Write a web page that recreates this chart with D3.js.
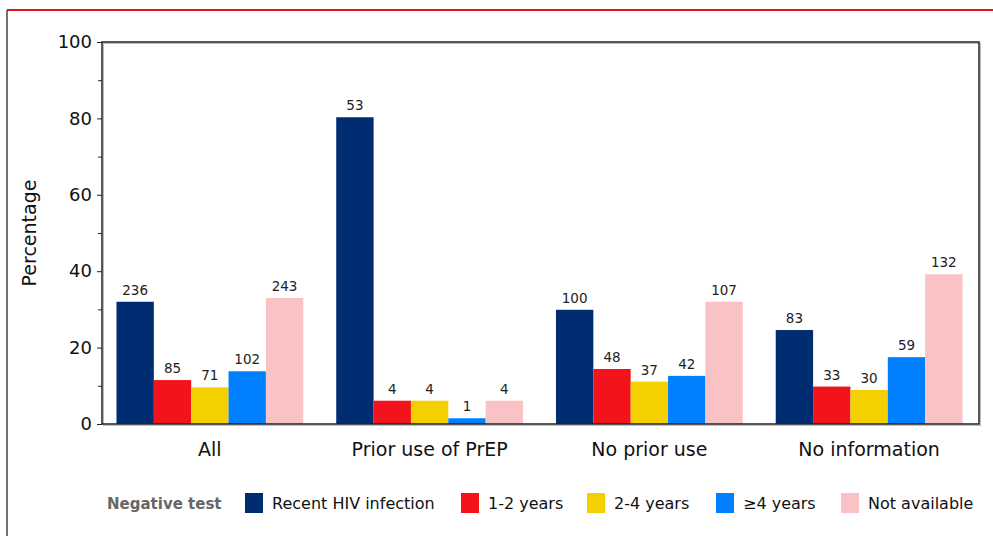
<!DOCTYPE html>
<html>
<head>
<meta charset="utf-8">
<script src="https://cdn.jsdelivr.net/npm/d3@7"></script>
<style>
  body { margin: 0; background: #fff; }
  svg { display: block; font-family: "DejaVu Sans", Verdana, sans-serif; }
</style>
</head>
<body>
<svg id="chart"></svg>
<script>
// Categories and series
const groups = ['All', 'Prior use of PrEP', 'No prior use', 'No information'];
const series = ['Recent HIV infection', '1-2 years', '2-4 years', '\u22654 years', 'Not available'];
const colors = ['#002d72', '#f2131c', '#f5d000', '#0080ff', '#f9c3c6'];

// Percentages per group (one value per series)
const allPct = [32.0, 11.5, 9.6, 13.8, 33.0];
const priorPct = [80.3, 6.1, 6.1, 1.5, 6.1];
const noPriorPct = [29.9, 14.4, 11.1, 12.6, 32.0];
const noInfoPct = [24.6, 9.8, 8.9, 17.5, 39.2];

// Counts shown above bars
const allN = [236, 85, 71, 102, 243];
const priorN = [53, 4, 4, 1, 4];
const noPriorN = [100, 48, 37, 42, 107];
const noInfoN = [83, 33, 30, 59, 132];

const yTicks = [0, 20, 40, 60, 80, 100];
const yMinorTicks = [10, 30, 50, 70, 90];

const pct = [allPct, priorPct, noPriorPct, noInfoPct];
const counts = [allN, priorN, noPriorN, noInfoN];

const data = groups.map((g, i) => ({
    group: g,
    values: series.map((s, j) => ({ series: s, pct: pct[i][j], n: counts[i][j], color: colors[j] }))
}));

const W = 993, H = 536;
const margin = { top: 42, right: 14, bottom: 112, left: 102 };
const innerW = W - margin.left - margin.right;
const innerH = H - margin.top - margin.bottom;

const svg = d3.select('#chart').attr('width', W).attr('height', H);

// Page frame: dark left rule and red top rule
svg.append('line')
    .attr('x1', 7).attr('x2', 7).attr('y1', 10).attr('y2', H)
    .attr('stroke', '#444').attr('stroke-width', 1.5);
svg.append('line')
    .attr('x1', 7).attr('x2', W).attr('y1', 10).attr('y2', 10)
    .attr('stroke', '#e3111c').attr('stroke-width', 2);

const chart = svg.append('g')
    .attr('transform', `translate(${margin.left},${margin.top})`);

// Scales
const x0 = d3.scaleBand()
    .domain(groups)
    .range([-2, innerW])
    .paddingInner(0.15)
    .paddingOuter(0.075);

const x1 = d3.scaleBand()
    .domain(series)
    .range([0, x0.bandwidth()]);

const y = d3.scaleLinear()
    .domain([0, 100])
    .range([innerH, 0]);

// Plot box shadow + border
chart.append('rect')
    .attr('x', 1.5).attr('y', 1.5)
    .attr('width', innerW).attr('height', innerH)
    .attr('fill', 'none').attr('stroke', '#bbb').attr('stroke-width', 1);

// Bars
const gGroups = chart.selectAll('.grp')
    .data(data)
    .join('g')
    .attr('class', 'grp')
    .attr('transform', d => `translate(${x0(d.group)},0)`);

gGroups.selectAll('rect')
    .data(d => d.values)
    .join('rect')
    .attr('x', d => x1(d.series))
    .attr('y', d => y(d.pct))
    .attr('width', x1.bandwidth())
    .attr('height', d => innerH - y(d.pct))
    .attr('fill', d => d.color);

gGroups.selectAll('.lbl')
    .data(d => d.values)
    .join('text')
    .attr('class', 'lbl')
    .attr('x', d => x1(d.series) + x1.bandwidth() / 2)
    .attr('y', d => y(d.pct) - 7)
    .attr('text-anchor', 'middle')
    .attr('font-size', 13.5)
    .attr('fill', '#222')
    .text(d => d.n);

chart.append('rect')
    .attr('x', 0).attr('y', 0)
    .attr('width', innerW).attr('height', innerH)
    .attr('fill', 'none').attr('stroke', '#222').attr('stroke-width', 1.5);

// Y axis
const yAxis = d3.axisLeft(y).tickValues(yTicks).tickSize(5).tickPadding(5);
const yAxisG = chart.append('g').call(yAxis);
yAxisG.select('.domain').remove();
yAxisG.selectAll('line').attr('stroke', '#222');
yAxisG.selectAll('text')
    .attr('font-size', 18)
    .attr('fill', '#111')
    .attr('font-family', '"DejaVu Sans", Verdana, sans-serif');

const yMinorG = chart.append('g')
    .call(d3.axisLeft(y).tickValues(yMinorTicks).tickSize(4).tickFormat(''));
yMinorG.select('.domain').remove();
yMinorG.selectAll('line').attr('stroke', '#222');

// X axis labels
const xAxisG = chart.append('g')
    .attr('transform', `translate(0,${innerH})`)
    .call(d3.axisBottom(x0).tickSize(0).tickPadding(19));
xAxisG.select('.domain').remove();
xAxisG.selectAll('text')
    .attr('font-size', 19)
    .attr('fill', '#111')
    .attr('font-family', '"DejaVu Sans", Verdana, sans-serif');

// Y axis title
svg.append('text')
    .attr('transform', `translate(36,${margin.top + innerH / 2}) rotate(-90)`)
    .attr('text-anchor', 'middle')
    .attr('font-size', 19)
    .attr('fill', '#111')
    .text('Percentage');

// Legend
const legend = svg.append('g').attr('transform', 'translate(0,503)');
legend.append('text')
    .attr('x', 107).attr('y', 6)
    .attr('font-size', 15)
    .attr('font-weight', 'bold')
    .attr('fill', '#666')
    .text('Negative test');

const legendX = [245, 461, 587, 716, 841];
const items = legend.selectAll('.item')
    .data(series)
    .join('g')
    .attr('class', 'item')
    .attr('transform', (d, i) => `translate(${legendX[i]},0)`);
items.append('rect')
    .attr('x', 0).attr('y', -10)
    .attr('width', 18).attr('height', 20)
    .attr('fill', (d, i) => colors[i]);
items.append('text')
    .attr('x', 27).attr('y', 6)
    .attr('font-size', 16)
    .attr('fill', '#111')
    .text(d => d);
</script>
</body>
</html>
